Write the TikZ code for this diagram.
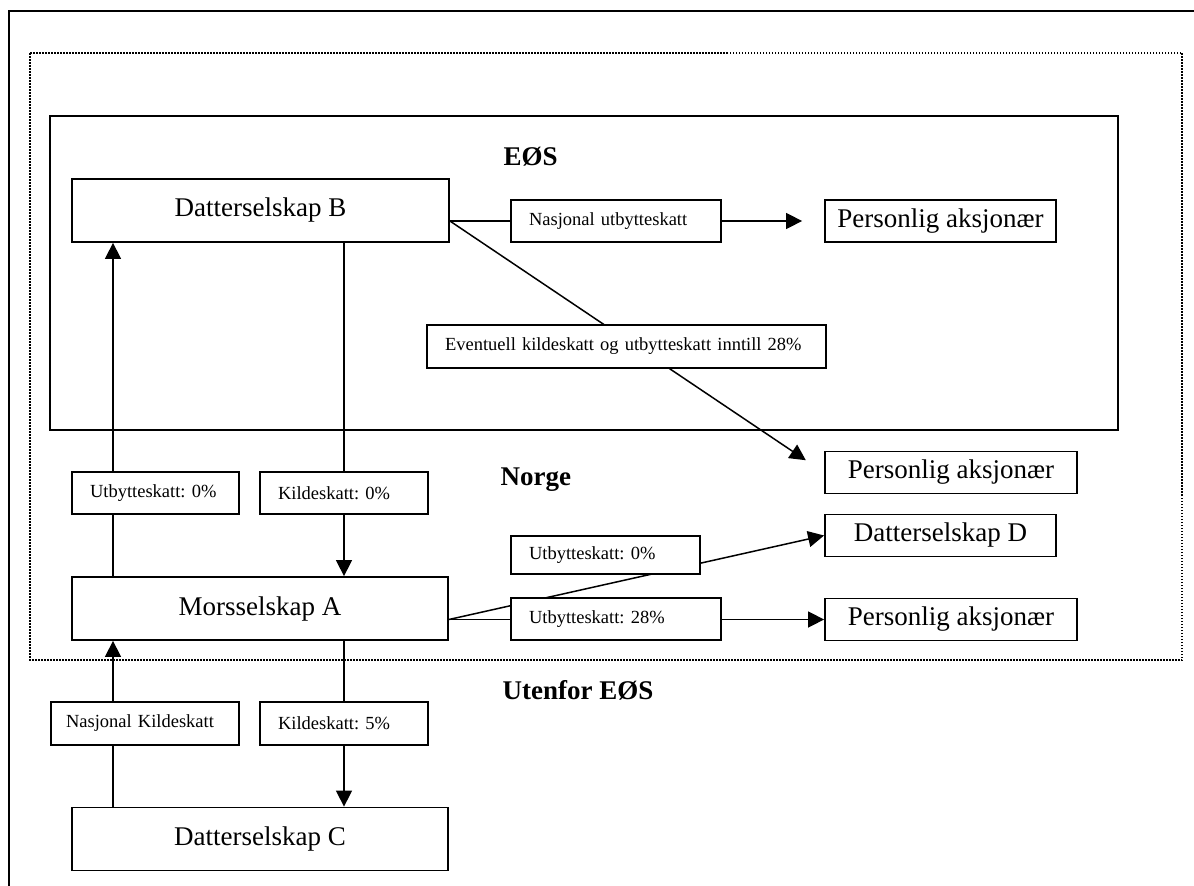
\documentclass[tikz,border=0pt]{standalone}
\usepackage{fontspec}
\setmainfont{Liberation Serif}
\usepackage{tikz}
\usetikzlibrary{arrows.meta}
\usetikzlibrary{positioning}

\newcommand{\bigtxt}{\fontsize{27}{31}\selectfont}
\newcommand{\smalltxt}{\fontsize{18.5}{22}\selectfont\frenchspacing}

\begin{document}
\begin{tikzpicture}[
    x=1pt, y=-1pt,
    >={Triangle[length=16pt, width=16pt]},
    firm_box/.style={draw, line width=1.8pt, font=\bigtxt, minimum width=#1, minimum height=63pt, inner sep=0pt},
    holder_box/.style={draw, line width=1.8pt, font=\bigtxt, minimum width=#1, minimum height=42pt, inner sep=0pt},
    tax_box/.style={draw, fill=white, line width=1.6pt, font=\smalltxt, text width=#1, align=left, inner xsep=18pt, inner ysep=0pt, minimum height=42pt},
    flow_line/.style={line width=1.5pt},
    region_lbl/.style={font=\bigtxt\bfseries, anchor=west},
    zone_dotted/.style={line width=1.5pt, dash pattern=on 1.5pt off 1.5pt},
    zone_solid/.style={line width=1.8pt}
  ]
  \useasboundingbox (0,0) rectangle (1194,886);

  % 1. Ytre ramme (bare topp og venstre kant er med)
  \draw[zone_solid] (9,886) -- (9,11) -- (1194,11);

  % 2. Norge (prikket) og EØS
  \draw[zone_dotted] (30,53) rectangle (1182,660);
  \draw[zone_solid] (50,116) rectangle (1118,430);

  % 3. Navn på områdene
  \node[region_lbl] (lbl_eos) at (500,157) {EØS};
  \node[region_lbl] (lbl_norge) at (497,480) {Norge};
  \node[region_lbl] (lbl_utenfor) at (499,690) {Utenfor EØS};

  % 4. Selskaper og aksjonærer
  \node[firm_box=377pt] (ds_b) at (260.5,210.5) {Datterselskap B};
  \node[firm_box=376pt] (ms_a) at (260,608.5) {Morsselskap A};
  \node[firm_box=376pt] (ds_c) at (260,839) {Datterselskap C};
  \node[holder_box=231pt] (pa_eos) at (940.5,221) {Personlig aksjonær};
  \node[holder_box=252pt] (pa_utl) at (951,472.5) {Personlig aksjonær};
  \node[holder_box=231pt] (ds_d) at (940.5,535.5) {Datterselskap D};
  \node[holder_box=252pt] (pa_no) at (951,619.5) {Personlig aksjonær};

  % 5. Kolonner for de loddrette pilene
  \coordinate (col_l) at (113,0);
  \coordinate (col_r) at (344,0);

  % 6. Utbytte- og skattestrømmer
  \draw[flow_line, ->, shorten >=22pt] (ds_b.east |- pa_eos.west) -- (pa_eos.west);
  \draw[flow_line, ->, shorten >=22pt] (ds_b.east |- pa_eos.west) -- (pa_utl.west);
  \draw[flow_line, ->] (ms_a.east |- pa_no.west) -- (ds_d.west);
  \draw[flow_line, ->] (ms_a.east |- pa_no.west) -- (pa_no.west);
  \draw[flow_line, ->] (col_r |- ds_b.south) -- (col_r |- ms_a.north);
  \draw[flow_line, ->] (col_l |- ms_a.north) -- (col_l |- ds_b.south);
  \draw[flow_line, ->] (col_r |- ms_a.south) -- (col_r |- ds_c.north);
  \draw[flow_line, ->] (col_l |- ds_c.north) -- (col_l |- ms_a.south);

  % 7. Skattesatser lagt over linjene
  \node[tax_box=174pt] (tx_nasj) at (616,221) {Nasjonal utbytteskatt};
  \node[tax_box=363pt, minimum height=43pt] (tx_event) at (626.5,346.5) {Eventuell kildeskatt og utbytteskatt inntill 28\%};
  \node[tax_box=153pt, minimum height=38pt] (tx_d) at (605.5,555) {Utbytteskatt: 0\%};
  \node[tax_box=174pt] (tx_no) at (616,619) {Utbytteskatt: 28\%};
  \node[tax_box=131pt] (tx_utb0) at (155.5,493) {Utbytteskatt: 0\%};
  \node[tax_box=132pt] (tx_kild0) at (col_r |- 0,493) {Kildeskatt: 0\%};
  \node[tax_box=158pt, inner xsep=15pt, minimum height=43pt] (tx_nkild) at (145,723.5) {Nasjonal Kildeskatt};
  \node[tax_box=132pt, minimum height=43pt] (tx_kild5) at (col_r |- 0,723.5) {Kildeskatt: 5\%};

\end{tikzpicture}
\end{document}
